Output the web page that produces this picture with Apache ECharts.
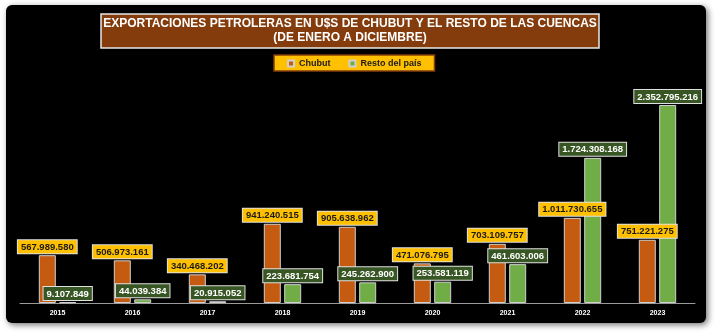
<!DOCTYPE html>
<html><head><meta charset="utf-8">
<script src="https://cdn.jsdelivr.net/npm/echarts@6/dist/echarts.min.js"></script>
<style>html,body{margin:0;padding:0;background:#fff}#c{width:715px;height:335px}</style>
</head><body><div id="c"></div>
<script>
const years = ['2015','2016','2017','2018','2019','2020','2021','2022','2023'];
const chubut = [567989580, 506973161, 340468202, 941240515, 905638962, 471076795, 703109757, 1011730655, 751221275];
const resto = [9107849, 44039384, 20915052, 223681754, 245262900, 253581119, 461603006, 1724308168, 2352795216];
const seriesNames = ['Chubut', 'Resto del país'];
const titleText = 'EXPORTACIONES PETROLERAS EN U$S DE CHUBUT Y EL RESTO DE LAS CUENCAS\n(DE ENERO A DICIEMBRE)';

function fmt(v){ return String(v).replace(/\B(?=(\d{3})+(?!\d))/g,'.'); }
const F = '"Liberation Sans", Arial, sans-serif';
const chart = echarts.init(document.getElementById('c'), null, {renderer:'canvas'});
chart.setOption({
  backgroundColor:'#ffffff',
  animation:false,
  graphic:[{type:'rect', z:-10, shape:{x:6,y:5,width:700,height:318,r:6},
    style:{fill:'#000', shadowBlur:6, shadowColor:'rgba(0,0,0,0.55)', shadowOffsetX:2, shadowOffsetY:2}}],
  title:{text:titleText, left:348, top:14, textAlign:'center', padding:[3,2,3,2],
    backgroundColor:'#843C0C', borderColor:'#e8e8e8', borderWidth:1.5,
    textStyle:{color:'#fff', fontFamily:F, fontWeight:'bold', fontSize:12, lineHeight:14, align:'center'}},
  legend:{data:seriesNames, top:55, left:274, backgroundColor:'#FFC000', borderColor:'#843C0C', borderWidth:1.5,
    padding:[4,13,3,13], itemGap:18, itemWidth:6, itemHeight:6, icon:'rect',
    textStyle:{color:'#1a1a1a', fontWeight:'bold', fontSize:9, fontFamily:F}},
  grid:{left:20, right:20, top:101, bottom:32},
  xAxis:{type:'category', data:years,
    axisLine:{lineStyle:{color:'#9a9a9a', width:1}}, axisTick:{show:false},
    axisLabel:{color:'#fff', fontWeight:'bold', fontSize:7, fontFamily:F, margin:7}},
  yAxis:{type:'value', min:0, max:2400000000, show:false, splitLine:{show:false}},
  series:[
    {name:seriesNames[0], type:'bar', data:chubut, barWidth:17, barGap:'20%',
     itemStyle:{color:'#C55A11', borderColor:'#d0d0d0', borderWidth:1},
     label:{show:true, position:'top', distance:2, formatter:p=>fmt(p.value),
       backgroundColor:'#FFC000', borderColor:'#e0e0e0', borderWidth:1, padding:[2,3,1,3],
       color:'#1a1a1a', fontWeight:'bold', fontSize:9.5, fontFamily:F}},
    {name:seriesNames[1], type:'bar', data:resto, barWidth:17,
     itemStyle:{color:'#70AD47', borderColor:'#d0d0d0', borderWidth:1},
     label:{show:true, position:'top', distance:2, formatter:p=>fmt(p.value),
       backgroundColor:'#375623', borderColor:'#e0e0e0', borderWidth:1, padding:[2,3,1,3],
       color:'#fff', fontWeight:'bold', fontSize:9.5, fontFamily:F}}
  ]
});
</script></body></html>
